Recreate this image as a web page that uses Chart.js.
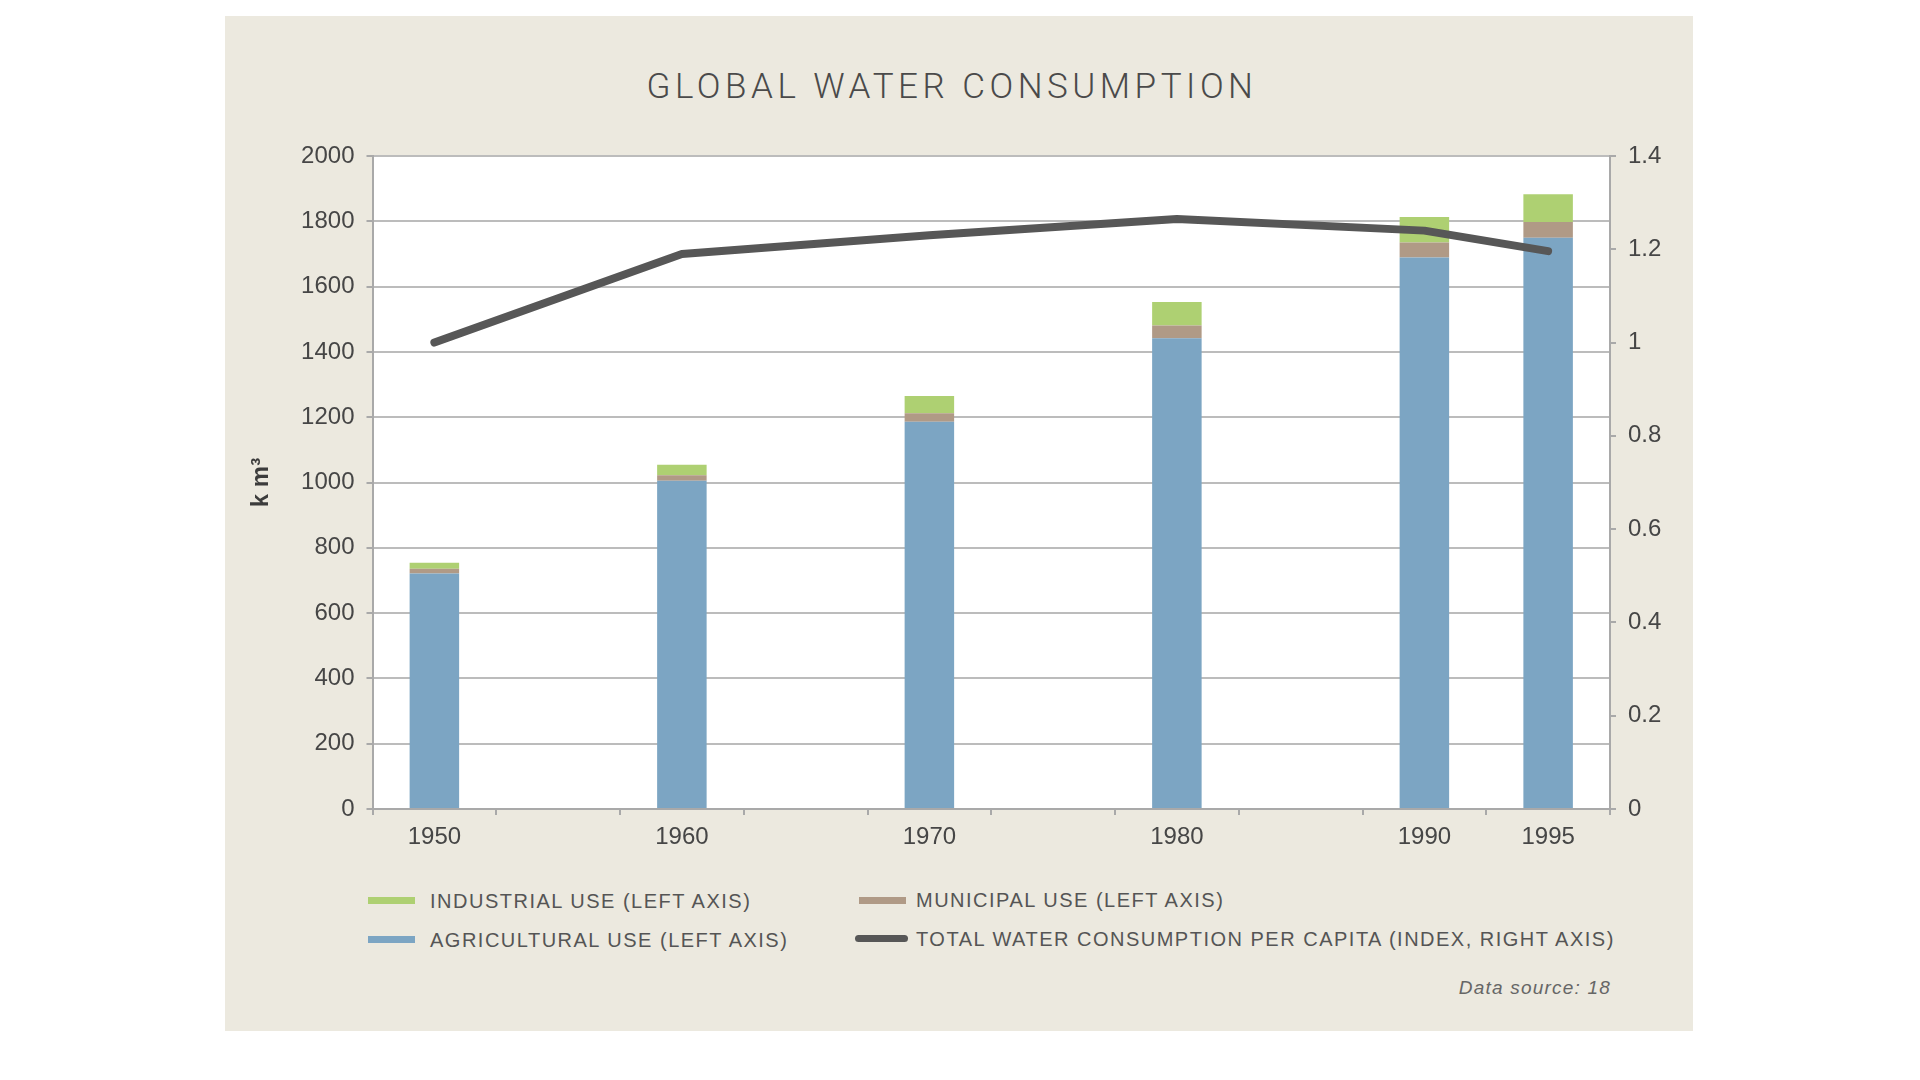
<!DOCTYPE html>
<html>
<head>
<meta charset="utf-8">
<script src="https://cdn.jsdelivr.net/npm/chart.js@4.4.1/dist/chart.umd.min.js"></script>
<style>
  html, body { margin: 0; padding: 0; background: #ffffff; }
  body { width: 1920px; height: 1080px; position: relative; overflow: hidden; }
  .panel { position: absolute; left: 225px; top: 16px; width: 1468px; height: 1015px; background: #ece9df; }
  #waterChart { position: absolute; left: 225px; top: 16px; }
  .title {
    position: absolute; left: 620px; top: 64px; width: 664px; height: 46px; line-height: 46px;
    text-align: center; font-family: Roboto, "Liberation Sans", sans-serif; font-weight: 300;
    font-size: 35px; letter-spacing: 4.5px; color: #4a4a4a; white-space: nowrap;
  }
  .legend-text {
    position: absolute; height: 26px; line-height: 26px; font-family: "Liberation Sans", sans-serif;
    font-size: 20px; letter-spacing: 1.5px; color: #555555; white-space: nowrap;
  }
  .swatch { position: absolute; height: 7px; }
  .source {
    position: absolute; right: 309px; top: 976px; height: 24px; line-height: 24px;
    font-family: "Liberation Sans", sans-serif; font-style: italic; font-size: 19px;
    letter-spacing: 1.2px; color: #666666; white-space: nowrap;
  }
</style>
</head>
<body>
<div class="panel"></div>
<div class="title">GLOBAL WATER CONSUMPTION</div>
<canvas id="waterChart" width="1468" height="853"></canvas>
<div id="legend"></div>
<div class="source">Data source: 18</div>

<script>
// years on the category axis (5-year slots, only some have data)
const years = ['1950', '1955', '1960', '1965', '1970', '1975', '1980', '1985', '1990', '1995'];

// km3
const agricultural = [721, null, 1005, null, 1186, null, 1442, null, 1689, 1750];
const municipal    = [15,  null, 17,   null, 26,   null, 39,   null, 46,   48];
const industrial   = [18,  null, 32,   null, 53,   null, 72,   null, 78,   85];

// per capita index, right axis
const perCapita = [1.0, null, 1.19, null, 1.23, null, 1.265, null, 1.24, 1.196];

const seriesNames = [
    'INDUSTRIAL USE (LEFT AXIS)',
    'MUNICIPAL USE (LEFT AXIS)',
    'AGRICULTURAL USE (LEFT AXIS)',
    'TOTAL WATER CONSUMPTION PER CAPITA (INDEX, RIGHT AXIS)'
];

const COLORS = {
    industrial: '#aed072',
    municipal: '#b09a86',
    agricultural: '#7ca5c3',
    total: '#575757',
    grid: '#bcbcbc',
    axis: '#a9a9a9',
    tick: '#464646'
};

const tickFont = { family: '"Liberation Sans", sans-serif', size: 24 };

// white plot area on the beige panel
const plotBackground = {
    id: 'plotBackground',
    beforeDraw(chart) {
        const { ctx, chartArea } = chart;
        ctx.save();
        ctx.fillStyle = '#ffffff';
        ctx.fillRect(chartArea.left, chartArea.top, chartArea.width, chartArea.height);
        ctx.restore();
    }
};

function buildLegend() {
    const legend = document.getElementById('legend');
    const items = [
        { name: seriesNames[0], color: COLORS.industrial, sx: 368, tx: 430, y: 900.5 },
        { name: seriesNames[2], color: COLORS.agricultural, sx: 368, tx: 430, y: 939.5 },
        { name: seriesNames[1], color: COLORS.municipal, sx: 859, tx: 916, y: 900 },
        { name: seriesNames[3], color: COLORS.total, sx: 855, tx: 916, y: 938.5, line: true }
    ];
    items.forEach(it => {
        const sw = document.createElement('div');
        sw.className = 'swatch';
        sw.style.left = it.sx + 'px';
        sw.style.top = (it.y - 3.5) + 'px';
        sw.style.width = (it.line ? 53 : 47) + 'px';
        sw.style.background = it.color;
        if (it.line) sw.style.borderRadius = '4px';
        legend.appendChild(sw);

        const tx = document.createElement('div');
        tx.className = 'legend-text';
        tx.style.left = it.tx + 'px';
        tx.style.top = (it.y - 13) + 'px';
        tx.textContent = it.name;
        legend.appendChild(tx);
    });
}

document.addEventListener('DOMContentLoaded', () => {
    buildLegend();

    const ctx = document.getElementById('waterChart').getContext('2d');
    new Chart(ctx, {
        data: {
            labels: years,
            datasets: [
                {
                    type: 'line',
                    label: seriesNames[3],
                    data: perCapita,
                    yAxisID: 'y1',
                    borderColor: COLORS.total,
                    borderWidth: 8,
                    borderCapStyle: 'round',
                    borderJoinStyle: 'round',
                    pointRadius: 0,
                    tension: 0,
                    spanGaps: true,
                    order: 0
                },
                {
                    type: 'bar',
                    label: seriesNames[2],
                    data: agricultural,
                    backgroundColor: COLORS.agricultural,
                    stack: 'water',
                    yAxisID: 'y',
                    order: 1
                },
                {
                    type: 'bar',
                    label: seriesNames[1],
                    data: municipal,
                    backgroundColor: COLORS.municipal,
                    stack: 'water',
                    yAxisID: 'y',
                    order: 1
                },
                {
                    type: 'bar',
                    label: seriesNames[0],
                    data: industrial,
                    backgroundColor: COLORS.industrial,
                    stack: 'water',
                    yAxisID: 'y',
                    order: 1
                }
            ]
        },
        options: {
            responsive: false,
            animation: false,
            devicePixelRatio: 1,
            layout: { padding: { top: 140, left: 0, right: 0, bottom: 0 } },
            datasets: {
                bar: { barPercentage: 0.4, categoryPercentage: 1.0, borderWidth: 0 }
            },
            plugins: {
                legend: { display: false },
                title: { display: false },
                tooltip: { enabled: false }
            },
            scales: {
                x: {
                    stacked: true,
                    grid: {
                        display: true,
                        drawOnChartArea: false,
                        drawTicks: true,
                        tickLength: 6,
                        offset: true,
                        color: COLORS.axis,
                        lineWidth: 2
                    },
                    border: { display: true, color: COLORS.axis, width: 2 },
                    ticks: {
                        color: COLORS.tick,
                        font: tickFont,
                        padding: 8,
                        maxRotation: 0,
                        autoSkip: false,
                        callback: (value, index) => agricultural[index] === null ? '' : years[index]
                    },
                    afterFit: (scale) => { scale.height = 60; }
                },
                y: {
                    stacked: true,
                    position: 'left',
                    min: 0,
                    max: 2000,
                    ticks: {
                        stepSize: 200,
                        color: COLORS.tick,
                        font: tickFont,
                        padding: 12,
                        callback: (v) => String(v)
                    },
                    grid: { color: COLORS.grid, lineWidth: 2, tickLength: 6, tickColor: COLORS.axis },
                    border: { display: true, color: COLORS.axis, width: 2 },
                    title: {
                        display: true,
                        text: 'k m³',
                        color: '#3c3c3c',
                        font: { family: '"Liberation Sans", sans-serif', size: 24, weight: 'bold' },
                        padding: { top: 22, bottom: 0 }
                    },
                    afterFit: (scale) => { scale.width = 147.5; }
                },
                y1: {
                    position: 'right',
                    min: 0,
                    max: 1.4,
                    ticks: {
                        stepSize: 0.2,
                        color: COLORS.tick,
                        font: tickFont,
                        padding: 12,
                        callback: (v) => String(Number(v.toFixed(1)))
                    },
                    grid: { drawOnChartArea: false, tickLength: 6, color: COLORS.axis, lineWidth: 2 },
                    border: { display: true, color: COLORS.axis, width: 2 },
                    afterFit: (scale) => { scale.width = 83; }
                }
            }
        },
        plugins: [plotBackground]
    });
});
</script>
</body>
</html>
